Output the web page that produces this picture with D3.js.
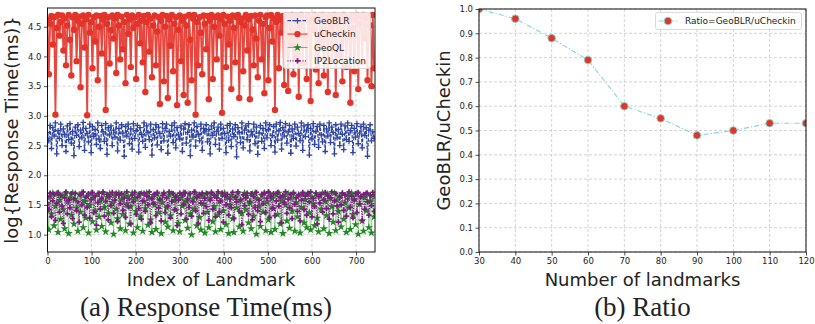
<!DOCTYPE html>
<html lang="en">
<head>
<meta charset="UTF-8">
<title>Response Time and Ratio</title>
<style>
  body { margin: 0; background: #fff; }
  svg text { font-family: "DejaVu Sans", sans-serif; fill: #222; }
  .caption { font-family: "Liberation Serif", serif; fill: #222; }
</style>
</head>
<body>
<svg id="fig" width="815" height="324"></svg>
<script src="https://cdn.jsdelivr.net/npm/d3@7"></script>
<script>
// ---- data ----
const landmarkStep = 3; // one sample every 3 landmarks
const uCheckin = [
  4.62,3.70,4.55,4.68,4.20,4.66,3.02,4.48,4.70,4.35,
  4.58,4.69,4.10,4.64,3.85,4.52,4.70,4.28,3.68,4.66,
  4.45,4.70,3.92,4.60,4.67,3.48,4.55,4.69,4.15,4.62,
  3.01,4.70,4.40,4.58,3.80,4.66,4.25,4.69,3.60,4.50,
  4.68,4.05,4.62,4.70,3.10,4.55,4.66,3.88,4.44,4.69,
  4.30,4.64,3.72,4.70,4.52,3.95,4.67,4.12,4.58,3.55,
  4.70,4.38,4.62,3.82,4.69,4.48,4.66,3.62,4.55,4.70,
  4.22,4.60,3.90,4.68,3.40,4.58,4.70,4.08,4.64,3.65,
  4.52,4.69,3.85,4.42,4.66,3.20,4.60,4.70,3.58,4.50,
  4.68,3.30,4.62,4.18,4.70,3.75,4.55,4.66,3.18,4.45,
  4.69,3.92,4.60,3.35,4.67,4.52,3.22,4.70,4.28,3.60,
  4.64,4.70,3.02,4.58,3.85,4.66,4.40,3.70,4.69,4.55,
  4.12,4.68,3.28,4.60,4.70,3.62,4.50,4.66,3.95,4.69,
  4.35,4.62,3.05,4.70,4.55,3.82,4.67,4.20,4.60,3.45,
  4.69,4.48,3.90,4.66,4.70,3.30,4.58,4.64,3.75,4.52,
  4.70,4.10,4.62,3.28,4.68,4.45,3.85,4.69,4.30,3.65,
  4.60,4.70,3.95,4.55,3.38,4.66,4.69,3.60,4.48,4.70,
  4.25,4.64,3.10,4.58,4.70,3.80,4.62,4.40,4.68,3.52,
  4.55,4.69,3.42,4.66,4.20,4.70,3.70,4.60,3.98,4.68,
  3.32,4.52,4.70,3.88,4.64,4.35,3.62,4.69,4.58,3.25,
  4.66,4.45,4.70,3.78,4.62,3.55,4.68,4.15,4.70,3.68,
  4.58,4.66,3.40,4.69,4.50,3.92,4.62,4.70,3.35,4.55,
  4.68,4.02,4.64,3.58,4.70,4.38,3.82,4.66,4.60,3.22,
  4.69,4.48,3.75,4.62,4.70,3.45,4.55,4.67,3.90,4.70,
  4.30,4.64,3.60,4.68,4.52,3.50,4.70,3.80
];
const geoBLR = [
  2.72,2.58,2.84,2.45,2.80,2.66,2.88,2.36,2.75,2.62,
  2.86,2.50,2.78,2.69,2.40,2.83,2.60,2.87,2.54,2.74,
  2.33,2.81,2.67,2.85,2.48,2.76,2.63,2.89,2.42,2.79,
  2.70,2.56,2.86,2.38,2.82,2.65,2.77,2.52,2.88,2.61,
  2.45,2.84,2.73,2.57,2.87,2.35,2.80,2.68,2.83,2.50,
  2.76,2.64,2.88,2.41,2.79,2.59,2.85,2.71,2.32,2.82,
  2.66,2.86,2.53,2.78,2.44,2.87,2.62,2.75,2.84,2.39,
  2.80,2.69,2.57,2.88,2.47,2.83,2.72,2.60,2.86,2.34,
  2.77,2.63,2.85,2.51,2.81,2.70,2.43,2.87,2.58,2.79,
  2.86,2.37,2.74,2.66,2.84,2.55,2.88,2.46,2.80,2.68,
  2.61,2.83,2.40,2.78,2.87,2.54,2.72,2.85,2.33,2.76,
  2.64,2.88,2.49,2.82,2.69,2.58,2.86,2.42,2.79,2.73,
  2.85,2.56,2.77,2.36,2.83,2.67,2.88,2.52,2.74,2.81,
  2.44,2.86,2.62,2.79,2.70,2.38,2.84,2.59,2.87,2.48,
  2.78,2.65,2.85,2.31,2.80,2.72,2.55,2.88,2.46,2.76,
  2.83,2.60,2.87,2.41,2.74,2.68,2.86,2.53,2.81,2.35,
  2.71,2.84,2.57,2.79,2.45,2.88,2.63,2.77,2.85,2.50,
  2.67,2.82,2.39,2.86,2.59,2.75,2.89,2.44,2.80,2.66,
  2.87,2.54,2.73,2.84,2.37,2.78,2.62,2.86,2.49,2.81,
  2.70,2.58,2.88,2.42,2.83,2.65,2.76,2.85,2.34,2.79,
  2.61,2.87,2.52,2.74,2.82,2.47,2.86,2.68,2.56,2.84,
  2.40,2.78,2.66,2.88,2.55,2.81,2.72,2.36,2.85,2.63,
  2.77,2.50,2.86,2.69,2.43,2.83,2.60,2.88,2.57,2.75,
  2.84,2.38,2.79,2.64,2.87,2.53,2.71,2.82,2.46,2.86,
  2.67,2.80,2.32,2.76,2.85,2.58,2.73,2.62
];
const geoQL = [
  1.52,1.08,1.64,1.35,1.70,1.15,1.48,1.68,1.04,1.58,
  1.26,1.66,1.42,1.10,1.69,1.55,1.02,1.62,1.33,1.70,
  1.18,1.60,1.45,1.06,1.67,1.38,1.70,1.12,1.56,1.28,
  1.65,1.03,1.50,1.69,1.22,1.62,1.40,1.08,1.68,1.30,
  1.57,1.14,1.70,1.46,1.05,1.63,1.36,1.69,1.20,1.54,
  1.01,1.66,1.43,1.27,1.70,1.10,1.59,1.34,1.68,1.07,
  1.52,1.64,1.18,1.47,1.70,1.03,1.61,1.39,1.12,1.67,
  1.30,1.69,1.06,1.56,1.44,1.70,1.16,1.62,1.25,1.04,
  1.66,1.50,1.09,1.68,1.37,1.60,1.02,1.54,1.70,1.21,
  1.45,1.13,1.67,1.32,1.69,1.07,1.58,1.41,1.65,1.19,
  1.05,1.62,1.48,1.70,1.24,1.56,1.11,1.68,1.35,1.00,
  1.60,1.43,1.70,1.15,1.64,1.29,1.08,1.66,1.52,1.03,
  1.69,1.38,1.12,1.61,1.70,1.22,1.47,1.05,1.67,1.33,
  1.56,1.09,1.68,1.40,1.70,1.17,1.63,1.02,1.50,1.66,
  1.27,1.04,1.62,1.45,1.69,1.13,1.58,1.36,1.06,1.70,
  1.42,1.65,1.20,1.53,1.10,1.68,1.31,1.70,1.01,1.60,
  1.48,1.14,1.66,1.38,1.70,1.07,1.55,1.25,1.69,1.04,
  1.61,1.44,1.09,1.67,1.34,1.70,1.18,1.57,1.02,1.64,
  1.50,1.23,1.69,1.11,1.62,1.40,1.70,1.06,1.54,1.30,
  1.67,1.03,1.46,1.68,1.20,1.59,1.12,1.70,1.37,1.08,
  1.63,1.52,1.15,1.69,1.28,1.05,1.66,1.43,1.70,1.10,
  1.56,1.32,1.68,1.02,1.61,1.47,1.21,1.70,1.07,1.58,
  1.39,1.65,1.13,1.69,1.26,1.54,1.04,1.67,1.45,1.09,
  1.70,1.34,1.60,1.17,1.68,1.01,1.51,1.64,1.23,1.06,
  1.62,1.40,1.69,1.12,1.57,1.03,1.66,1.30
];
const ip2Location = [
  1.64,1.42,1.70,1.30,1.57,1.68,1.24,1.53,1.71,1.38,
  1.66,1.48,1.19,1.62,1.72,1.35,1.58,1.45,1.69,1.27,
  1.60,1.70,1.40,1.55,1.21,1.67,1.50,1.72,1.33,1.63,
  1.46,1.69,1.28,1.59,1.71,1.37,1.65,1.16,1.54,1.70,
  1.43,1.61,1.72,1.31,1.56,1.68,1.25,1.64,1.49,1.71,
  1.36,1.58,1.70,1.22,1.66,1.52,1.69,1.41,1.62,1.29,
  1.72,1.47,1.60,1.18,1.67,1.55,1.71,1.34,1.63,1.44,
  1.69,1.26,1.57,1.70,1.39,1.65,1.50,1.72,1.20,1.61,
  1.53,1.68,1.32,1.71,1.45,1.59,1.23,1.66,1.70,1.37,
  1.62,1.48,1.72,1.28,1.56,1.69,1.42,1.64,1.15,1.58,
  1.70,1.35,1.67,1.51,1.71,1.26,1.60,1.46,1.69,1.31,
  1.55,1.72,1.40,1.63,1.19,1.68,1.53,1.70,1.36,1.61,
  1.47,1.69,1.24,1.58,1.71,1.43,1.66,1.30,1.62,1.72,
  1.38,1.57,1.70,1.21,1.65,1.50,1.68,1.33,1.60,1.45,
  1.71,1.27,1.63,1.55,1.72,1.39,1.59,1.17,1.67,1.49,
  1.62,1.70,1.34,1.56,1.69,1.25,1.64,1.46,1.71,1.40,
  1.58,1.22,1.68,1.52,1.70,1.37,1.61,1.72,1.29,1.65,
  1.44,1.69,1.32,1.57,1.71,1.48,1.63,1.20,1.66,1.54,
  1.72,1.36,1.60,1.45,1.68,1.27,1.70,1.51,1.62,1.39,
  1.67,1.23,1.58,1.71,1.42,1.65,1.33,1.69,1.55,1.72,
  1.30,1.61,1.47,1.70,1.18,1.64,1.53,1.68,1.38,1.59,
  1.71,1.44,1.66,1.26,1.62,1.72,1.35,1.57,1.69,1.48,
  1.21,1.63,1.50,1.70,1.41,1.67,1.31,1.60,1.72,1.46,
  1.65,1.28,1.58,1.69,1.37,1.71,1.52,1.64,1.24,1.68,
  1.43,1.70,1.55,1.33,1.66,1.49,1.71,1.39
];
const xTicksA = [0, 100, 200, 300, 400, 500, 600, 700];
const yTicksA = [1.0, 1.5, 2.0, 2.5, 3.0, 3.5, 4.0, 4.5];

const ratioX = [30, 40, 50, 60, 70, 80, 90, 100, 110, 120];
const ratioY = [1.0, 0.96, 0.88, 0.79, 0.60, 0.55, 0.48, 0.50, 0.53, 0.53];
const xTicksB = [30, 40, 50, 60, 70, 80, 90, 100, 110, 120];
const yTicksB = [0.0, 0.1, 0.2, 0.3, 0.4, 0.5, 0.6, 0.7, 0.8, 0.9, 1.0];

const svg = d3.select('#fig');
const gridColor = '#c8c8c8';

function axesFrame(g, x, y, xt, yt, clipId) {
    const [x0, x1] = x.range(), [y0, y1] = y.range();
    g.append('clipPath').attr('id', clipId).append('rect')
        .attr('x', x0).attr('y', y1).attr('width', x1 - x0).attr('height', y0 - y1);
    // grid
    g.append('g').selectAll('line').data(xt).join('line')
        .attr('x1', d => x(d)).attr('x2', d => x(d)).attr('y1', y0).attr('y2', y1)
        .attr('stroke', gridColor).attr('stroke-width', 0.8).attr('stroke-dasharray', '3,2');
    g.append('g').selectAll('line').data(yt).join('line')
        .attr('y1', d => y(d)).attr('y2', d => y(d)).attr('x1', x0).attr('x2', x1)
        .attr('stroke', gridColor).attr('stroke-width', 0.8).attr('stroke-dasharray', '3,2');
}

function axesTicks(g, x, y, xt, yt, xfmt, yfmt) {
    const [x0, x1] = x.range(), [y0, y1] = y.range();
    const xa = g.append('g').attr('transform', `translate(0,${y0})`)
        .call(d3.axisBottom(x).tickValues(xt).tickFormat(xfmt).tickSize(3.5).tickPadding(2));
    const ya = g.append('g').attr('transform', `translate(${x0},0)`)
        .call(d3.axisLeft(y).tickValues(yt).tickFormat(yfmt).tickSize(3.5).tickPadding(2.5));
    [xa, ya].forEach(a => {
        a.select('.domain').remove();
        a.selectAll('text').style('font-size', '8.5px').style('font-family', '"DejaVu Sans", sans-serif').attr('fill', '#222');
        a.selectAll('line').attr('stroke', '#222').attr('stroke-width', 0.8);
    });
    g.append('rect').attr('x', x0).attr('y', y1).attr('width', x1 - x0).attr('height', y0 - y1)
        .attr('fill', 'none').attr('stroke', '#111').attr('stroke-width', 1);
}

const plusPath = s => `M${-s},0H${s}M0,${-s}V${s}`;
const starPath = d3.symbol().type(d3.symbolStar).size(22)();
const fatPlus = d3.symbol().type(d3.symbolCross).size(15)();

// ---- (a) Response time ----
const xA = d3.scaleLinear().domain([0, 743]).range([47.5, 375]);
const yA = d3.scaleLinear().domain([0.708, 4.815]).range([252, 8]);
const gA = svg.append('g');
axesFrame(gA, xA, yA, xTicksA, yTicksA, 'clipA');

const lineA = d3.line().x((d, i) => xA(i * landmarkStep)).y(d => yA(d));
const dataA = gA.append('g').attr('clip-path', 'url(#clipA)');

const series = [
    { name: 'GeoBLR', values: geoBLR, color: '#2f45a3', dash: '3.5,1.5', width: 1.2, lineOpacity: 1, marker: 'plus' },
    { name: 'uCheckin', values: uCheckin, color: '#e3342a', dash: null, width: 1.8, lineOpacity: 0.9, marker: 'circle' },
    { name: 'GeoQL', values: geoQL, color: '#1f8a1f', dash: null, width: 0.8, lineOpacity: 0.45, marker: 'star' },
    { name: 'IP2Location', values: ip2Location, color: '#7d1a82', dash: '1,1.5', width: 1.3, lineOpacity: 1, marker: 'fatplus' }
];

function drawMarker(sel, s) {
    if (s.marker === 'circle') {
        sel.append('circle').attr('r', 3.2).attr('fill', s.color);
    } else if (s.marker === 'plus') {
        sel.append('path').attr('d', plusPath(2.8)).attr('stroke', s.color).attr('stroke-width', 1.3).attr('fill', 'none');
    } else if (s.marker === 'star') {
        sel.append('path').attr('d', starPath).attr('fill', s.color);
    } else {
        sel.append('path').attr('d', fatPlus).attr('fill', s.color);
    }
}

series.forEach(s => {
    const g = dataA.append('g');
    g.append('path').datum(s.values).attr('d', lineA)
        .attr('fill', 'none').attr('stroke', s.color).attr('stroke-width', s.width)
        .attr('stroke-opacity', s.lineOpacity)
        .attr('stroke-dasharray', s.dash);
    g.selectAll('g.m').data(s.values).join('g').attr('class', 'm')
        .attr('transform', (d, i) => `translate(${xA(i * landmarkStep)},${yA(d)})`)
        .each(function () { drawMarker(d3.select(this), s); });
});

axesTicks(gA, xA, yA, xTicksA, yTicksA, d3.format('d'), d3.format('.1f'));

// legend (a)
const legA = gA.append('g').attr('transform', 'translate(283.5,12.5)');
legA.append('rect').attr('width', 87).attr('height', 56).attr('rx', 2)
    .attr('fill', '#fff').attr('fill-opacity', 0.85).attr('stroke', '#d0d0d0').attr('stroke-width', 0.8);
series.forEach((s, i) => {
    const yy = 8.2 + i * 13.4;
    legA.append('line').attr('x1', 4).attr('x2', 24).attr('y1', yy).attr('y2', yy)
        .attr('stroke', s.color).attr('stroke-width', s.width === 0.8 ? 1 : s.width)
        .attr('stroke-opacity', s.name === 'uCheckin' ? 0.55 : (s.lineOpacity < 1 ? 0.6 : 1))
        .attr('stroke-dasharray', s.dash);
    drawMarker(legA.append('g').attr('transform', `translate(14,${yy})`), s);
    legA.append('text').attr('x', 30.5).attr('y', yy).attr('dy', '0.35em')
        .style('font-size', '9px').text(s.name);
});

svg.append('text').attr('transform', 'translate(18,130) rotate(-90)')
    .attr('text-anchor', 'middle').style('font-size', '18px').text('log{Response Time(ms)}');
svg.append('text').attr('x', 211).attr('y', 286)
    .attr('text-anchor', 'middle').style('font-size', '18px').text('Index of Landmark');
svg.append('text').attr('class', 'caption').attr('x', 206).attr('y', 316)
    .attr('text-anchor', 'middle').style('font-size', '27px').text('(a) Response Time(ms)');

// ---- (b) Ratio ----
const xB = d3.scaleLinear().domain([30, 120]).range([479, 806]);
const yB = d3.scaleLinear().domain([0, 1]).range([252, 9]);
const gB = svg.append('g');
axesFrame(gB, xB, yB, xTicksB, yTicksB, 'clipB');

const ratioPts = ratioX.map((v, i) => [v, ratioY[i]]);
const dataB = gB.append('g').attr('clip-path', 'url(#clipB)');
dataB.append('path').datum(ratioPts)
    .attr('d', d3.line().x(d => xB(d[0])).y(d => yB(d[1])))
    .attr('fill', 'none').attr('stroke', '#7fd9d1').attr('stroke-width', 1.1)
    .attr('stroke-dasharray', '5,2,1.2,2');
dataB.selectAll('circle').data(ratioPts).join('circle')
    .attr('cx', d => xB(d[0])).attr('cy', d => yB(d[1])).attr('r', 3.8)
    .attr('fill', '#e3342a').attr('stroke', '#7fd9d1').attr('stroke-width', 0.9);

axesTicks(gB, xB, yB, xTicksB, yTicksB, d3.format('d'), d3.format('.1f'));

const legB = gB.append('g').attr('transform', 'translate(655.5,12.5)');
legB.append('rect').attr('width', 146).attr('height', 17).attr('rx', 2)
    .attr('fill', '#fff').attr('fill-opacity', 0.85).attr('stroke', '#d0d0d0').attr('stroke-width', 0.8);
legB.append('line').attr('x1', 3).attr('x2', 22).attr('y1', 8.5).attr('y2', 8.5)
    .attr('stroke', '#7fd9d1').attr('stroke-width', 1.1).attr('stroke-dasharray', '5,2,1.2,2');
legB.append('circle').attr('cx', 12.5).attr('cy', 8.5).attr('r', 3.8)
    .attr('fill', '#e3342a').attr('stroke', '#7fd9d1').attr('stroke-width', 0.9);
legB.append('text').attr('x', 29.5).attr('y', 8.5).attr('dy', '0.35em')
    .style('font-size', '9px').text('Ratio=GeoBLR/uCheckin');

svg.append('text').attr('transform', 'translate(450,130.5) rotate(-90)')
    .attr('text-anchor', 'middle').style('font-size', '18px').text('GeoBLR/uCheckin');
svg.append('text').attr('x', 642.5).attr('y', 286)
    .attr('text-anchor', 'middle').style('font-size', '18px').text('Number of landmarks');
svg.append('text').attr('class', 'caption').attr('x', 642.5).attr('y', 316)
    .attr('text-anchor', 'middle').style('font-size', '27px').text('(b) Ratio');
</script>
</body>
</html>
